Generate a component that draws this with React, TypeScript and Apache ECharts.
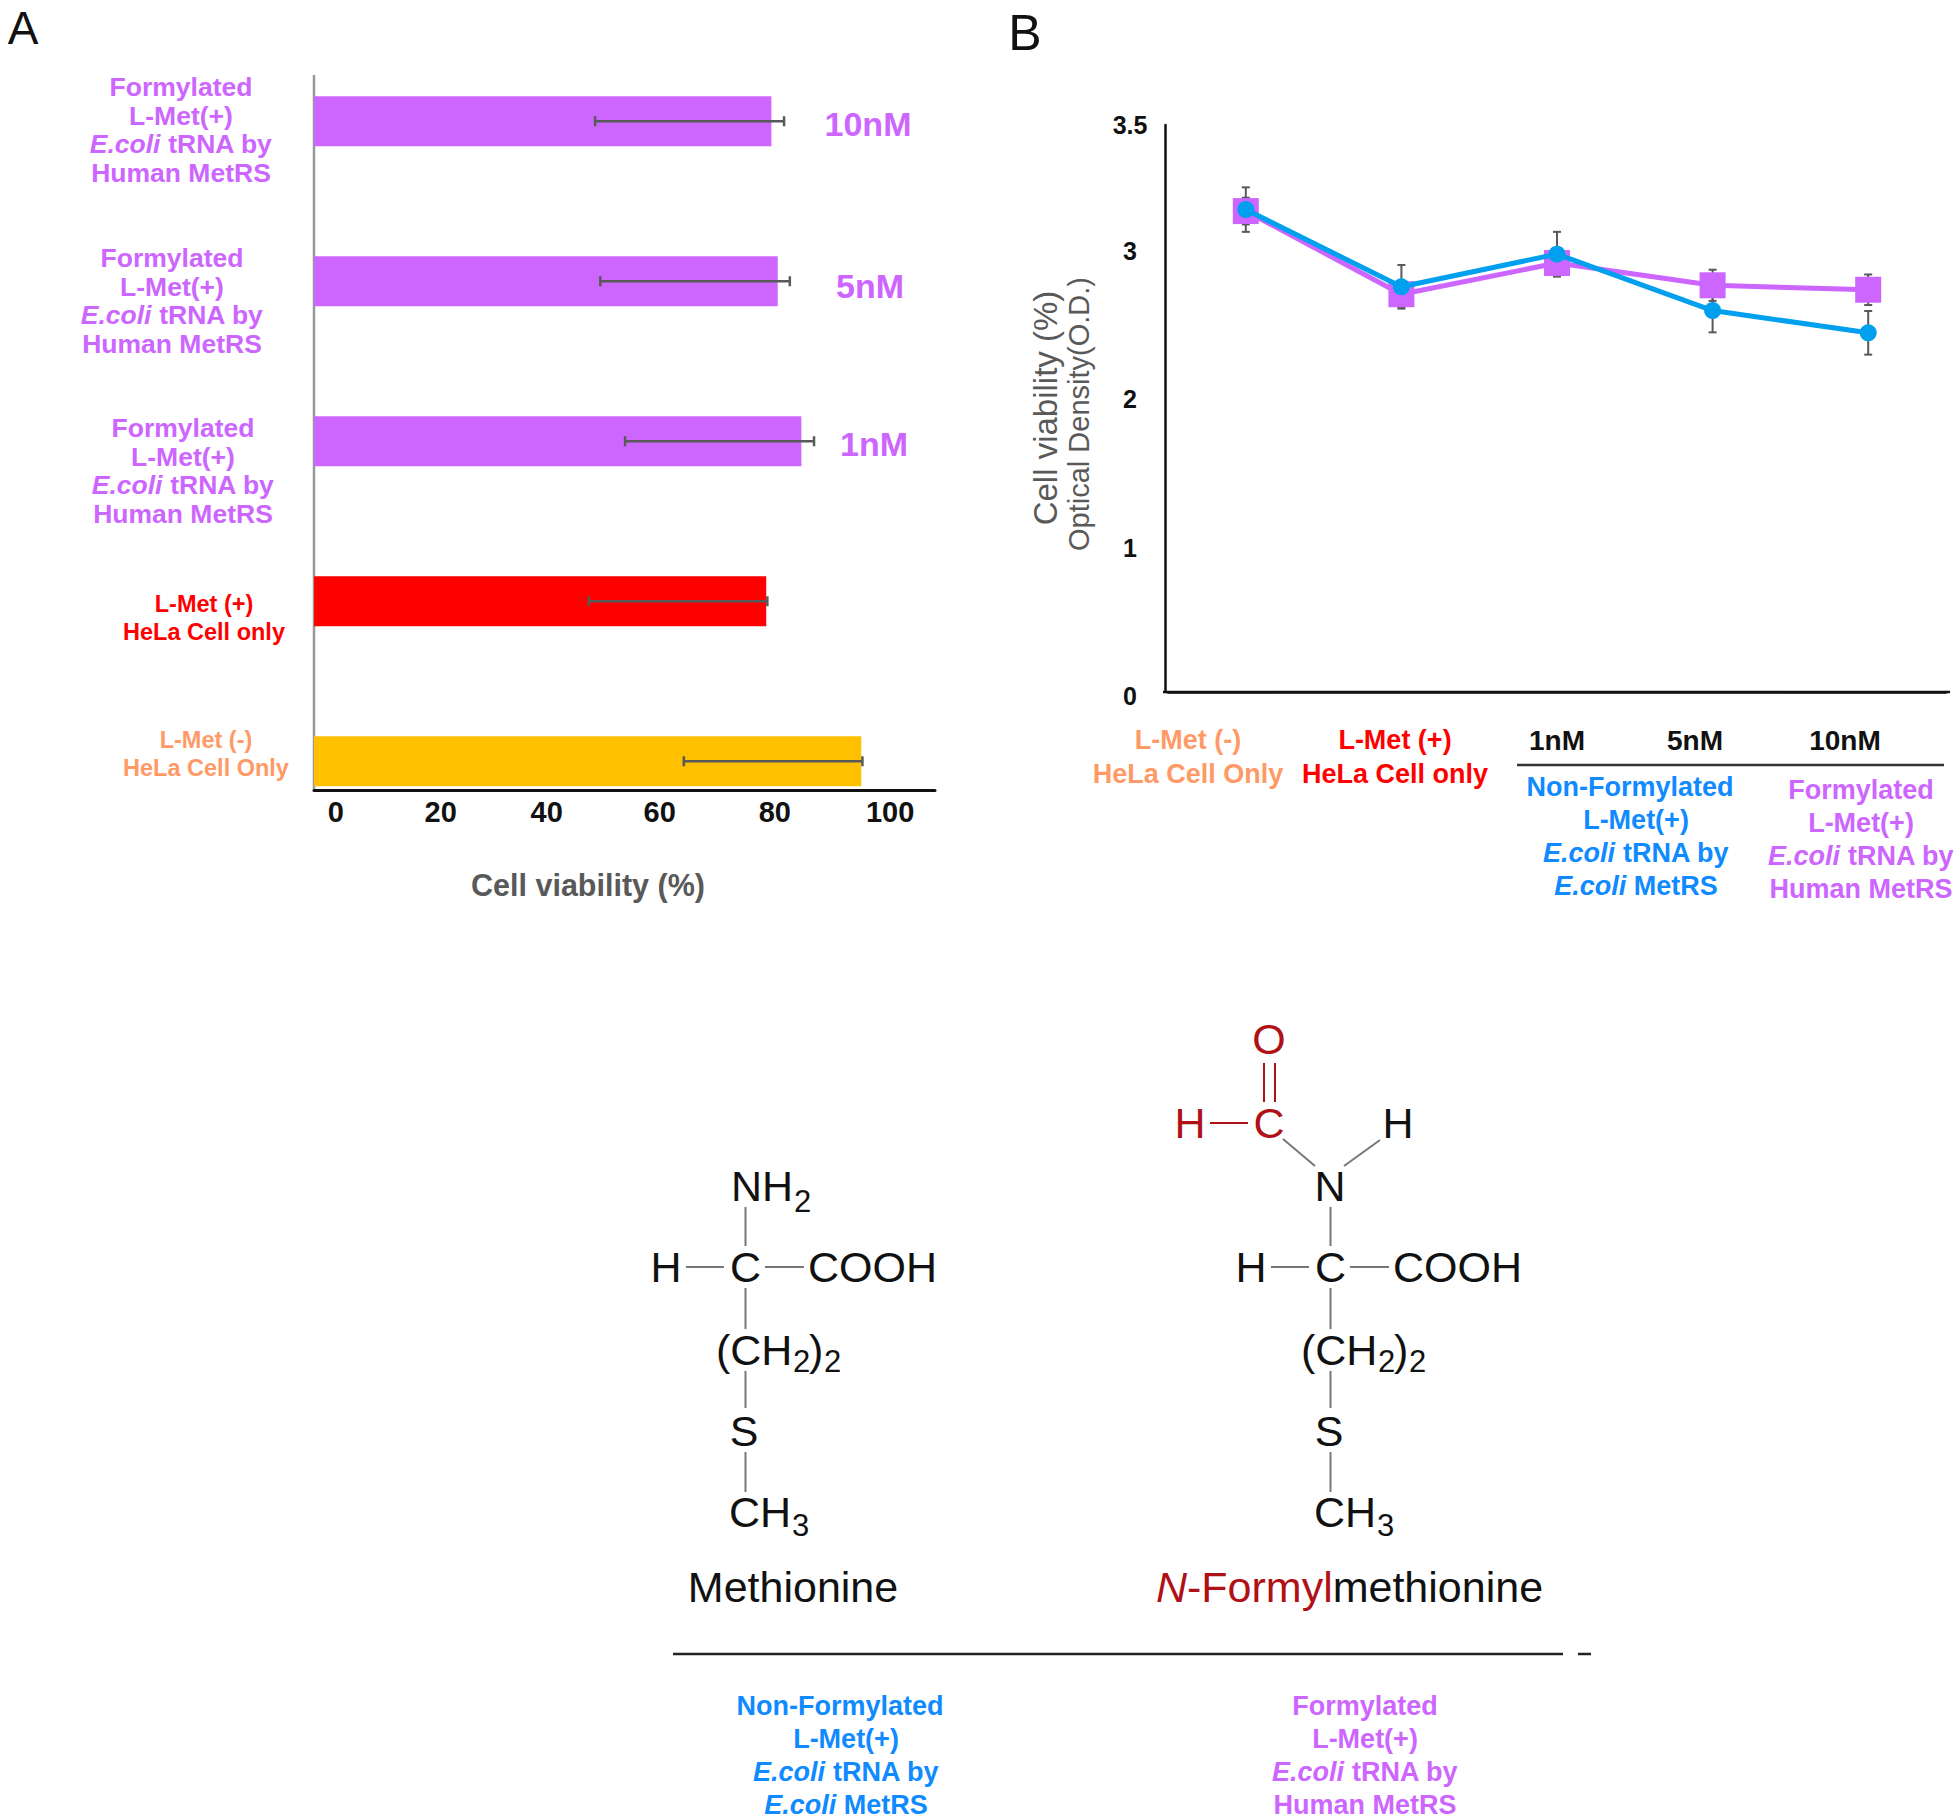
import React, { useEffect, useRef } from "react";
import * as echarts from "echarts";

// ---------- Panel A data ----------
const viabilityCategories = [
  "Formylated L-Met(+) E.coli tRNA by Human MetRS 10nM",
  "Formylated L-Met(+) E.coli tRNA by Human MetRS 5nM",
  "Formylated L-Met(+) E.coli tRNA by Human MetRS 1nM",
  "L-Met(+) HeLa Cell only",
  "L-Met(-) HeLa Cell Only",
];
const viabilityValues = [79.4, 80.5, 84.6, 78.5, 95];
const viabilityLow = [48.8, 49.7, 54, 47.7, 64.2];
const viabilityHigh = [81.6, 82.6, 86.8, 78.7, 95.2];
const viabilityColors = ["#cc66ff", "#cc66ff", "#cc66ff", "#ff0000", "#ffc000"];
const viabilityTickText = ["0", "20", "40", "60", "80", "100"];
const viabilityTickAt = [3.8, 22, 40.4, 60, 80, 100];

// ---------- Panel B data ----------
const odCategories = ["L-Met(-)", "L-Met(+)", "1nM", "5nM", "10nM"];
const odNonFormylated = [3.25, 2.73, 2.95, 2.57, 2.42];
const odNonFormylatedErr = [0.15, 0.147, 0.15, 0.147, 0.147];
const odFormylated = [3.24, 2.68, 2.89, 2.74, 2.71];
const odFormylatedErr = [0.09, 0.087, 0.09, 0.105, 0.103];
const odTickText = ["0", "1", "2", "3", "3.5"];
const odTickAt = [0, 1, 2, 3, 3.82];

// ---------- Text ----------
const formylatedLines = ["Formylated", "L-Met(+)", "E.coli| tRNA by", "Human MetRS"];
const nonFormylatedHead = ["Non-Formylated"];
const nonFormylatedRest = ["L-Met(+)", "E.coli| tRNA by", "E.coli| MetRS"];

const PURPLE = "#cc66ff";
const BLUE = "#0f8aff";
const LINEBLUE = "#00a0ee";
const ORANGE = "#ff9966";
const RED = "#ff0000";
const GREY = "#595959";
const DARKRED = "#b01116";
const FONT = '"Liberation Sans", Arial, sans-serif';

function plain(x: number, y: number, text: string, fontSize: number, fill: string, fontWeight = "normal", extra: any = {}) {
  return {
    type: "text", x, y, silent: true,
    ...extra,
    style: { text, fontSize, fill, fontWeight, fontFamily: FONT, align: extra.align || "center", verticalAlign: "middle" },
  };
}

function block(x: number, y: number, lines: string[], fontSize: number, lineHeight: number, fill: string) {
  const text = lines
    .map((l) => {
      const parts = l.split("|");
      return parts.length === 2 ? `{i|${parts[0]}}{r|${parts[1]}}` : `{r|${l}}`;
    })
    .join("\n");
  const common = { fontFamily: FONT, fontWeight: "bold", fontSize, lineHeight, fill };
  return {
    type: "text", x, y, silent: true,
    style: {
      text, fill, fontFamily: FONT, fontWeight: "bold", fontSize, lineHeight,
      align: "center", verticalAlign: "middle",
      rich: { r: { ...common }, i: { ...common, fontStyle: "italic" } },
    },
  };
}

function seg(x1: number, y1: number, x2: number, y2: number, stroke: string, lineWidth = 2) {
  return { type: "line", silent: true, shape: { x1, y1, x2, y2 }, style: { stroke, lineWidth } };
}

function chain(dx: number) {
  const F = 43;
  const S = 31;
  const B = "#111";
  const L = "#777";
  const left = { align: "left" };
  return [
    plain(666 + dx, 1267, "H", F, B),
    plain(745.5 + dx, 1267, "C", F, B),
    plain(808 + dx, 1267, "COOH", F, B, "normal", left),
    plain(716 + dx, 1350, "(CH", F, B, "normal", left),
    plain(793 + dx, 1361, "2", S, B, "normal", left),
    plain(809 + dx, 1350, ")", F, B, "normal", left),
    plain(824 + dx, 1361, "2", S, B, "normal", left),
    plain(744 + dx, 1431, "S", F, B),
    plain(729 + dx, 1512, "CH", F, B, "normal", left),
    plain(792 + dx, 1525, "3", S, B, "normal", left),
    seg(745.5 + dx, 1207, 745.5 + dx, 1246, L),
    seg(686 + dx, 1267, 724 + dx, 1267, L),
    seg(765 + dx, 1267, 804 + dx, 1267, L),
    seg(745.5 + dx, 1288, 745.5 + dx, 1329, L),
    seg(745.5 + dx, 1371, 745.5 + dx, 1408, L),
    seg(745.5 + dx, 1452, 745.5 + dx, 1492, L),
  ];
}

function errorBarH(params: any, api: any) {
  const idx = api.value(2);
  const a = api.coord([api.value(0), idx]);
  const b = api.coord([api.value(1), idx]);
  const cap = 5;
  const style = { stroke: GREY, lineWidth: 2.5 };
  return {
    type: "group",
    children: [
      { type: "line", shape: { x1: a[0], y1: a[1], x2: b[0], y2: b[1] }, style },
      { type: "line", shape: { x1: a[0], y1: a[1] - cap, x2: a[0], y2: a[1] + cap }, style },
      { type: "line", shape: { x1: b[0], y1: b[1] - cap, x2: b[0], y2: b[1] + cap }, style },
    ],
  };
}

function errorBarV(params: any, api: any) {
  const idx = api.value(0);
  const a = api.coord([idx, api.value(1)]);
  const b = api.coord([idx, api.value(2)]);
  const cap = 4;
  const style = { stroke: GREY, lineWidth: 2 };
  return {
    type: "group",
    children: [
      { type: "line", shape: { x1: a[0], y1: a[1], x2: b[0], y2: b[1] }, style },
      { type: "line", shape: { x1: a[0] - cap, y1: a[1], x2: a[0] + cap, y2: a[1] }, style },
      { type: "line", shape: { x1: b[0] - cap, y1: b[1], x2: b[0] + cap, y2: b[1] }, style },
    ],
  };
}

export default function App() {
  const ref = useRef<HTMLDivElement>(null);
  useEffect(() => {
    const chart = echarts.init(ref.current!, null, { renderer: "svg" });
    const tickLabel = (at: number[], text: string[]) => (v: number) => text[at.indexOf(v)] ?? "";
    const odTickStyle = { color: "#111", fontWeight: "bold", fontSize: 25, fontFamily: FONT };
    chart.setOption({
      animation: false,
      backgroundColor: "#ffffff",
      textStyle: { fontFamily: FONT },
      grid: [
        { left: 314, top: 41.25, width: 621, height: 800, outerBoundsMode: "none" },
        { left: 1168, top: 125, width: 778, height: 567, outerBoundsMode: "none" },
      ],
      xAxis: [
        {
          type: "value", gridIndex: 0, min: 0, max: 107.8, position: "bottom", offset: -51,
          splitLine: { show: false },
          axisLine: { show: true, lineStyle: { color: "#111", width: 3 } },
          axisTick: { show: false },
          axisLabel: {
            customValues: viabilityTickAt,
            formatter: tickLabel(viabilityTickAt, viabilityTickText),
            color: "#111", fontWeight: "bold", fontSize: 29, fontFamily: FONT, margin: 7,
            hideOverlap: false, showMinLabel: true, showMaxLabel: true,
          },
        },
        {
          type: "category", gridIndex: 1, data: odCategories,
          axisLine: { show: true, lineStyle: { color: "#111", width: 2.5 } },
          axisTick: { show: false },
          axisLabel: { show: false },
        },
      ],
      yAxis: [
        {
          type: "category", gridIndex: 0, data: viabilityCategories, inverse: true,
          axisLine: { show: false }, axisTick: { show: false }, axisLabel: { show: false },
        },
        {
          type: "value", gridIndex: 1, min: 0, max: 3.82, offset: 3,
          splitLine: { show: false },
          axisLine: { show: true, lineStyle: { color: "#111", width: 2.5 } },
          axisTick: { show: false },
          axisLabel: {
            customValues: odTickAt,
            formatter: (v: number) => {
              const t = tickLabel(odTickAt, odTickText)(v);
              return v === odTickAt[odTickAt.length - 1] ? `{b|${t}}` : `{a|${t}}`;
            },
            rich: {
              a: { ...odTickStyle, padding: [8, 0, 0, 0] },
              b: { ...odTickStyle },
            },
            ...odTickStyle,
            align: "center", margin: 35,
            showMinLabel: true, showMaxLabel: true,
          },
        },
      ],
      series: [
        {
          type: "bar", xAxisIndex: 0, yAxisIndex: 0, barWidth: 50, silent: true,
          data: viabilityValues.map((value, i) => ({ value, itemStyle: { color: viabilityColors[i] } })),
        },
        {
          type: "custom", xAxisIndex: 0, yAxisIndex: 0, renderItem: errorBarH, silent: true, z: 5,
          encode: { x: [0, 1], y: 2 },
          data: viabilityLow.map((low, i) => [low, viabilityHigh[i], i]),
        },
        {
          type: "custom", xAxisIndex: 1, yAxisIndex: 1, renderItem: errorBarV, silent: true, z: 1,
          encode: { x: 0, y: [1, 2] },
          data: odFormylated.map((v, i) => [i, v - odFormylatedErr[i], v + odFormylatedErr[i]]),
        },
        {
          type: "custom", xAxisIndex: 1, yAxisIndex: 1, renderItem: errorBarV, silent: true, z: 1,
          encode: { x: 0, y: [1, 2] },
          data: odNonFormylated.map((v, i) => [i, v - odNonFormylatedErr[i], v + odNonFormylatedErr[i]]),
        },
        {
          type: "line", xAxisIndex: 1, yAxisIndex: 1, data: odFormylated, silent: true, z: 3,
          symbol: "rect", symbolSize: 26,
          lineStyle: { color: PURPLE, width: 5 }, itemStyle: { color: PURPLE },
        },
        {
          type: "line", xAxisIndex: 1, yAxisIndex: 1, data: odNonFormylated, silent: true, z: 4,
          symbol: "circle", symbolSize: 17,
          lineStyle: { color: LINEBLUE, width: 5 }, itemStyle: { color: LINEBLUE },
        },
      ],
      graphic: [
        plain(23, 28, "A", 46, "#111"),
        plain(1025, 33, "B", 50, "#111"),

        // Panel A
        seg(314, 75, 314, 790, "#999", 2.5),
        block(181, 130, formylatedLines, 26.5, 28.4, PURPLE),
        block(172, 301, formylatedLines, 26.5, 28.4, PURPLE),
        block(183, 471, formylatedLines, 26.5, 28.4, PURPLE),
        block(204, 618, ["L-Met (+)", "HeLa Cell only"], 23.5, 28.4, RED),
        block(206, 754, ["L-Met (-)", "HeLa Cell Only"], 23.5, 28.4, ORANGE),
        plain(868, 124, "10nM", 34, PURPLE, "bold"),
        plain(870, 286, "5nM", 34, PURPLE, "bold"),
        plain(874, 444, "1nM", 34, PURPLE, "bold"),
        plain(588, 885, "Cell viability (%)", 30.5, GREY, "bold"),

        // Panel B
        seg(1163, 692, 1950, 692, "#111", 2.5),
        plain(1045, 408, "Cell viability (%)", 33, GREY, "normal", { rotation: Math.PI / 2 }),
        plain(1079, 414, "Optical Density(O.D.)", 29, GREY, "normal", { rotation: Math.PI / 2 }),
        block(1188, 757, ["L-Met (-)", "HeLa Cell Only"], 27, 34, ORANGE),
        block(1395, 757, ["L-Met (+)", "HeLa Cell only"], 27, 34, RED),
        plain(1557, 740, "1nM", 28, "#111", "bold"),
        plain(1695, 740, "5nM", 28, "#111", "bold"),
        plain(1845, 740, "10nM", 28, "#111", "bold"),
        seg(1517, 765, 1944, 765, "#333", 2.5),
        block(1630, 787, nonFormylatedHead, 27, 33, BLUE),
        block(1636, 853, nonFormylatedRest, 27, 33, BLUE),
        block(1861, 839, formylatedLines, 27, 33, PURPLE),

        // Structures
        plain(731, 1186, "NH", 43, "#111", "normal", { align: "left" }),
        plain(794, 1201, "2", 31, "#111", "normal", { align: "left" }),
        ...chain(0),
        plain(793, 1587, "Methionine", 43, "#111"),

        plain(1269, 1039, "O", 43, DARKRED),
        plain(1190, 1123, "H", 43, DARKRED),
        plain(1269, 1123, "C", 43, DARKRED),
        plain(1398, 1123, "H", 43, "#111"),
        plain(1330, 1186, "N", 43, "#111"),
        seg(1264, 1063, 1264, 1102, DARKRED),
        seg(1275, 1063, 1275, 1102, DARKRED),
        seg(1210, 1123, 1248, 1123, DARKRED),
        seg(1283, 1139, 1315, 1166, "#777"),
        seg(1344, 1166, 1380, 1140, "#777"),
        ...chain(585),
        {
          type: "text", x: 1349.5, y: 1587, silent: true,
          style: {
            text: "{n|N}{f|-Formyl}{m|methionine}",
            fontSize: 43, fontFamily: FONT, fill: "#111", align: "center", verticalAlign: "middle",
            rich: {
              n: { fontSize: 43, fontFamily: FONT, fontStyle: "italic", fill: DARKRED },
              f: { fontSize: 43, fontFamily: FONT, fill: DARKRED },
              m: { fontSize: 43, fontFamily: FONT, fill: "#111" },
            },
          },
        },
        seg(673, 1654, 1563, 1654, "#222", 2.5),
        seg(1578, 1654, 1591, 1654, "#222", 2.5),
        block(840, 1706, nonFormylatedHead, 27, 33, BLUE),
        block(846, 1772, nonFormylatedRest, 27, 33, BLUE),
        block(1365, 1755, formylatedLines, 27, 33, PURPLE),
      ],
    });
    return () => chart.dispose();
  }, []);
  return <div ref={ref} style={{ position: "absolute", left: 0, top: 0, width: 1960, height: 1820 }} />;
}
